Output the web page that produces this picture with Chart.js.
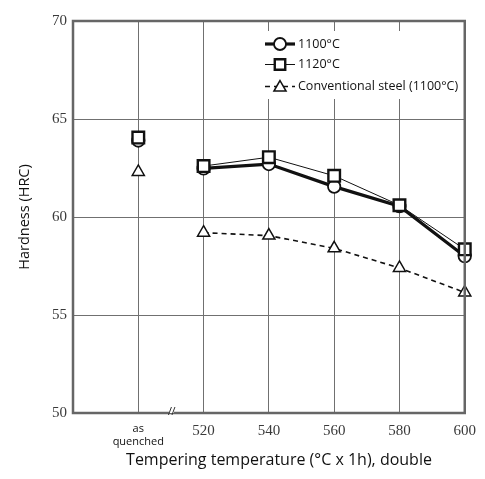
<!DOCTYPE html>
<html>
<head>
<meta charset="utf-8">
<script src="https://cdn.jsdelivr.net/npm/chart.js@4.4.1/dist/chart.umd.min.js"></script>
<style>
  html, body { margin: 0; padding: 0; background: #ffffff; }
  #wrap { width: 485px; height: 479px; }
</style>
</head>
<body>
<div id="wrap"><canvas id="c" width="485" height="479"></canvas></div>
<script>
// ---- data ----
const categories = ['as quenched', '520', '540', '560', '580', '600'];
const series1100 = [63.9, 62.48, 62.7, 61.55, 60.55, 58.0];
const series1120 = [64.05, 62.6, 63.05, 62.1, 60.6, 58.35];
const seriesConv = [62.3, 59.2, 59.05, 58.4, 57.4, 56.15];
const seriesNames = ['1100°C', '1120°C', 'Conventional steel (1100°C)'];
const yTicks = [50, 55, 60, 65, 70];
const xTitle = 'Tempering temperature (°C x 1h), double';
const yTitle = 'Hardness (HRC)';

const labels = [''].concat(categories);
const withLead = arr => [null].concat(arr);
// break between "as quenched" (index 1) and 520 (index 2)
const breakSeg = col => ({ borderColor: ctx => (ctx.p0DataIndex === 1 ? 'rgba(0,0,0,0)' : col) });

const SANS = "'Open Sans', 'Noto Sans', sans-serif";
const SERIF = "'Liberation Serif', 'DejaVu Serif', serif";

const datasets = [
  {
    label: seriesNames[0], data: withLead(series1100), order: 1,
    borderColor: '#111', borderWidth: 3.2, pointStyle: 'circle', pointRadius: 6.2,
    pointBorderWidth: 1.8, pointBackgroundColor: '#fff', pointBorderColor: '#111',
    segment: breakSeg('#111'), spanGaps: false
  },
  {
    label: seriesNames[1], data: withLead(series1120), order: 0,
    borderColor: '#111', borderWidth: 1, pointStyle: 'rect', pointRadius: 8.2,
    pointBorderWidth: 2.4, pointBackgroundColor: '#fff', pointBorderColor: '#111',
    segment: breakSeg('#111'), spanGaps: false
  },
  {
    label: seriesNames[2], data: withLead(seriesConv), order: 2,
    borderColor: '#111', borderWidth: 1.6, borderDash: [5, 4], pointStyle: 'triangle', pointRadius: 7,
    pointBorderWidth: 1.5, pointBackgroundColor: '#fff', pointBorderColor: '#111',
    segment: breakSeg('#111'), spanGaps: false
  }
];

const framePlugin = {
  id: 'frame',
  afterDatasetsDraw(chart) {
    const { ctx, chartArea: a } = chart;
    ctx.save();
    // outer frame
    ctx.strokeStyle = '#666';
    ctx.lineWidth = 2.5;
    ctx.strokeRect(a.left, a.top, a.right - a.left, a.bottom - a.top);
    // axis break mark "//" on x-axis between as quenched and 520
    const xs = chart.scales.x;
    const bx = (xs.getPixelForValue(1) + xs.getPixelForValue(2)) / 2 + 1;
    const by = a.bottom - 1;
    ctx.fillStyle = '#fff';
    ctx.fillRect(bx - 3, by - 3, 5, 4);
    ctx.strokeStyle = '#333';
    ctx.lineWidth = 1;
    for (const dx of [-2, 1.5]) {
      ctx.beginPath();
      ctx.moveTo(bx + dx - 1.5, by + 3);
      ctx.lineTo(bx + dx + 1.5, by - 5);
      ctx.stroke();
    }
    // legend box
    ctx.fillStyle = '#fff';
    ctx.fillRect(262, 31, 200, 68);
    const rows = [44, 64.5, 86.5];
    chart.data.datasets.forEach((ds, i) => {
      const y = rows[i];
      ctx.save();
      ctx.strokeStyle = ds.borderColor;
      ctx.lineWidth = ds.borderWidth;
      ctx.setLineDash(ds.borderDash || []);
      ctx.beginPath();
      ctx.moveTo(265, y);
      ctx.lineTo(295, y);
      ctx.stroke();
      ctx.restore();
      ctx.save();
      ctx.fillStyle = '#fff';
      ctx.strokeStyle = ds.pointBorderColor;
      ctx.lineWidth = ds.pointBorderWidth;
      Chart.helpers.drawPoint(ctx, { pointStyle: ds.pointStyle, radius: ds.pointStyle === 'rect' ? 7.4 : (ds.pointStyle === 'triangle' ? 7 : 6), rotation: 0, borderWidth: ds.pointBorderWidth }, 280, ds.pointStyle === 'triangle' ? y + 1 : y);
      ctx.restore();
      ctx.fillStyle = '#111';
      ctx.font = '12.5px ' + SANS;
      ctx.textBaseline = 'middle';
      ctx.textAlign = 'left';
      ctx.fillText(ds.label, 298, y);
    });
    // x axis title
    ctx.fillStyle = '#111';
    ctx.font = '16px ' + SANS;
    ctx.textAlign = 'center';
    ctx.textBaseline = 'middle';
    ctx.fillText(xTitle, 279, 460);
    ctx.restore();
  }
};

new Chart(document.getElementById('c'), {
  type: 'line',
  data: { labels, datasets },
  options: {
    responsive: false,
    animation: false,
    devicePixelRatio: 1,
    layout: { padding: { top: 21, right: 19, left: 0, bottom: 0 } },
    plugins: { legend: { display: false }, tooltip: { enabled: false } },
    scales: {
      x: {
        type: 'category',
        offset: false,
        grid: { color: '#707070', lineWidth: 1, drawTicks: false },
        border: { display: false },
        ticks: {
          autoSkip: false, maxRotation: 0, minRotation: 0, padding: 9,
          color: ctx => (ctx.index === 1 ? '#111' : '#3a3a3a'),
          font: ctx => (ctx.index === 1 ? { family: SANS, size: 11, lineHeight: 1.18 } : { family: SERIF, size: 15 }),
          callback: (v, i) => (i === 1 ? ['as', 'quenched'] : labels[i])
        },
        afterFit: s => { s.height = 66; }
      },
      y: {
        min: yTicks[0], max: yTicks[yTicks.length - 1],
        afterBuildTicks: s => { s.ticks = yTicks.map(v => ({ value: v })); },
        grid: { color: '#707070', lineWidth: 1, drawTicks: false },
        border: { display: false },
        ticks: { padding: 6, color: '#3a3a3a', font: { family: SERIF, size: 15 } },
        title: { display: true, text: yTitle, color: '#111', font: { family: SANS, size: 14.5 }, padding: { top: 16, bottom: 0 } },
        afterFit: s => { s.width = 73; }
      }
    }
  },
  plugins: [framePlugin]
});
</script>
</body>
</html>
